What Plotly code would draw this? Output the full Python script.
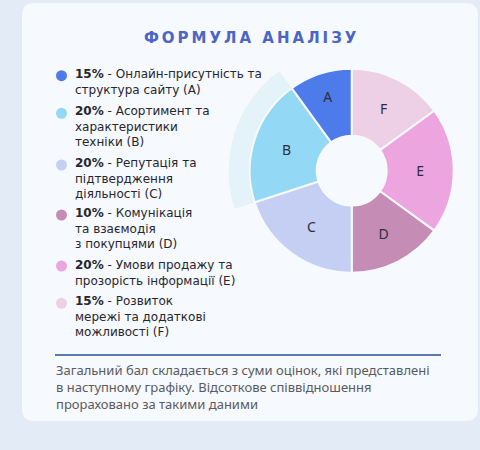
import plotly.graph_objects as go

W, H = 480, 450

# ---- data ----
slice_labels = ["A", "B", "C", "D", "E", "F"]
slice_values = [10, 20, 20, 15, 20, 15]   # angular shares as drawn in the ring
slice_colors = ["#4E7BEA", "#93D8F5", "#C5CFF4", "#C58DB5", "#EDA5DF", "#EDD0E6"]
highlight_label = "B"

legend_pct = ["15%", "20%", "20%", "10%", "20%", "15%"]
legend_lines = [
    ["Онлайн-присутність та", "структура сайту (A)"],
    ["Асортимент та", "характеристики", "техніки (B)"],
    ["Репутація та", "підтвердження", "діяльності (C)"],
    ["Комунікація", "та взаємодія", "з покупцями (D)"],
    ["Умови продажу та", "прозорість інформації (E)"],
    ["Розвиток", "мережі та додаткові", "можливості (F)"],
]
legend_first_y = [75.7, 113.3, 165, 215, 266, 303.3]

title_text = "ФОРМУЛА АНАЛІЗУ"
footer_lines = [
    "Загальний бал складається з суми оцінок, які представлені",
    "в наступному графіку. Відсоткове співвідношення",
    "прораховано за такими даними",
]

# ---- geometry (pixels) ----
cx, cy, R, R_ghost, r_hole = 351.7, 170.7, 102, 123, 35
FONT = "Noto Sans"
LEG_FS = 12

def px_dom(c, r, total, flip=False):
    if flip:
        return [1 - (c + r) / total, 1 - (c - r) / total]
    return [(c - r) / total, (c + r) / total]

# clockwise from 12 o'clock the ring reads F, E, D, C, B, A
order = list(range(len(slice_labels)))[::-1]
pie_labels = [slice_labels[i] for i in order]
pie_values = [slice_values[i] for i in order]
pie_colors = [slice_colors[i] for i in order]

fig = go.Figure()

# ghost (highlight) slice behind B
fig.add_trace(go.Pie(
    values=pie_values, labels=pie_labels, sort=False,
    direction="clockwise", rotation=0,
    marker=dict(colors=["#E4F2FA" if l == highlight_label else "rgba(0,0,0,0)" for l in pie_labels],
                line=dict(width=0)),
    textinfo="none", hoverinfo="skip", showlegend=False, hole=0.5,
    domain=dict(x=px_dom(cx, R_ghost, W), y=px_dom(cy, R_ghost, H, flip=True)),
))

fig.add_trace(go.Pie(
    values=pie_values, labels=pie_labels, text=pie_labels, sort=False,
    direction="clockwise", rotation=0,
    marker=dict(colors=pie_colors, line=dict(color="#F6F9FD", width=2)),
    textinfo="text", textposition="inside", insidetextorientation="horizontal",
    textfont=dict(family=FONT, size=14, color="#2E2E3A"),
    hole=r_hole / R, showlegend=False,
    domain=dict(x=px_dom(cx, R, W), y=px_dom(cy, R, H, flip=True)),
))

# legend dots via scatter on hidden pixel axes
fig.add_trace(go.Scatter(
    x=[61.5] * len(legend_pct), y=legend_first_y, mode="markers",
    marker=dict(size=11, color=slice_colors, line=dict(width=0)),
    hoverinfo="skip", showlegend=False,
))

annotations = []
annotations.append(dict(
    x=250, y=38, text="<b>" + "\u2009".join(list(title_text)) + "</b>",
    showarrow=False, xanchor="center", yanchor="middle",
    font=dict(family="DejaVu Sans", size=15, color="#4B66C4"),
))

for pct, lines, y0 in zip(legend_pct, legend_lines, legend_first_y):
    txt = "<br>".join([f"<b>{pct}</b> - " + lines[0]] + lines[1:])
    yc = y0 + (len(lines) - 1) * 13.5 / 2
    annotations.append(dict(
        x=73, y=yc, text=txt, showarrow=False, align="left",
        xanchor="left", yanchor="middle",
        font=dict(family="DejaVu Sans", size=LEG_FS, color="#26262E"),
    ))

annotations.append(dict(
    x=54, y=387, text="<br>".join(footer_lines), showarrow=False, align="left",
    xanchor="left", yanchor="middle",
    font=dict(family=FONT, size=13, color="#5A5A60"),
))

shapes = [
    # card
    dict(type="path", xref="x", yref="y",
         path="M 34,3 L 466,3 Q 478,3 478,15 L 478,409 Q 478,421 466,421 L 34,421 Q 22,421 22,409 L 22,15 Q 22,3 34,3 Z",
         fillcolor="#F6F9FD", line=dict(width=0), layer="below"),
    # separator
    dict(type="line", xref="x", yref="y", x0=55, x1=441, y0=355, y1=355,
         line=dict(color="#5B7BB0", width=2), layer="below"),
]

fig.update_layout(
    width=W, height=H, margin=dict(l=0, r=0, t=0, b=0),
    paper_bgcolor="#E3EBF7", plot_bgcolor="rgba(0,0,0,0)",
    xaxis=dict(range=[0, W], visible=False, fixedrange=True, domain=[0, 1]),
    yaxis=dict(range=[H, 0], visible=False, fixedrange=True, domain=[0, 1]),
    annotations=annotations, shapes=shapes, showlegend=False,
)

fig.write_html(
    "out.html",
    config={"displayModeBar": False},
    post_script="document.body.style.margin='0';document.body.style.overflow='hidden';",
)
